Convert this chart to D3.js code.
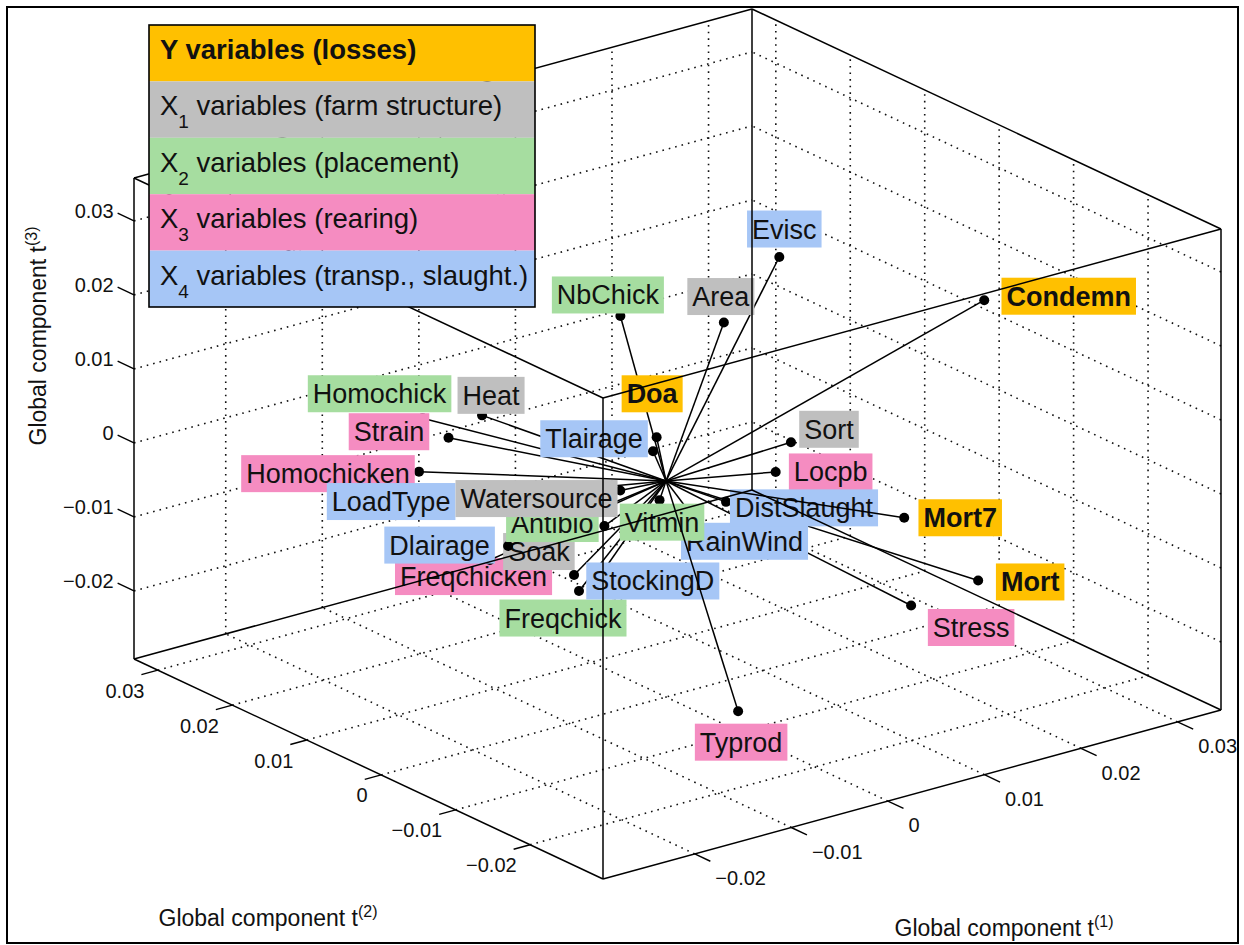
<!DOCTYPE html>
<html><head><meta charset="utf-8">
<script src="https://cdn.jsdelivr.net/npm/d3@7"></script>
<style>
body{margin:0;background:#fff}
svg{display:block}
text{font-family:"Liberation Sans",Arial,Helvetica,sans-serif}
</style>
</head><body>
<svg id="chart" width="1244" height="945"></svg>
<script>
// ---------------- data ----------------
const variables = ["Condemn","Evisc","Area","NbChick","Sort","Locpb","Stress","Mort","Heat","Homochick","Strain","Homochicken","Freqchicken","Freqchick","StockingD","Soak","Dlairage","LoadType","Antibio","Watersource","RainWind","Vitmin","DistSlaught","Mort7","Typrod","Tlairage","Doa"];
const groups    = ["Y","X4","X1","X2","X1","X3","X3","Y","X1","X2","X3","X3","X3","X2","X4","X1","X4","X4","X2","X1","X4","X2","X4","Y","X3","X4","Y"];
const comp1 = [0.0291,0.0179,0.0137,-0.0001,0.0114,0.0075,0.0223,0.0277,-0.0098,-0.0175,-0.0179,-0.0225,-0.0049,-0.0067,-0.0084,-0.0113,-0.0125,-0.0150,-0.0033,-0.0032,-0.0006,0.0001,0.0039,0.0185,0.0013,0.0002,-0.0002];
const comp2 = [-0.005,0.008,0.010,0.006,-0.002,-0.005,-0.004,-0.006,0.012,0.010,0.006,0.004,0.006,0.003,-0.002,0.009,0.005,0.008,0.004,0.002,-0.004,0.001,-0.003,-0.008,-0.008,0.002,0.001];
const comp3 = [0.0164,0.0201,0.0118,0.0195,0.0021,0.0009,-0.0229,-0.0205,0.0067,0.0100,0.0094,0.0074,-0.0138,-0.0139,-0.0089,-0.0109,-0.0067,-0.0010,-0.0068,-0.0011,-0.0022,-0.0031,-0.0028,-0.0078,-0.0278,0.0030,0.0055];

const groupKeys   = ["Y","X1","X2","X3","X4"];
const groupSubs   = ["","1","2","3","4"];
const groupDescr  = ["Y variables (losses)"," variables (farm structure)"," variables (placement)"," variables (rearing)"," variables (transp., slaught.)"];
const tickValues  = [-0.02,-0.01,0,0.01,0.02,0.03];
const tickLabels  = ["\u22120.02","\u22120.01","0","0.01","0.02","0.03"];
const axisTitles  = ["(1)","(2)","(3)"];

// ---------------- layout / style ----------------
const groupColors = {Y:"#FFC000",X1:"#BFBFBF",X2:"#A6DDA0",X3:"#F58CC1",X4:"#A6C6F6"};
const labelOffset = {Condemn:[84.5,-4],Evisc:[5,-28],Area:[-3,-26],NbChick:[-12.5,-21],Sort:[38,-13],Locpb:[55,0],Stress:[60,22],Mort:[52,1.5],Heat:[9,-20],Homochick:[-43,-24.5],Strain:[-59.5,-6],Homochicken:[-91,2],Freqchicken:[-100.5,1.5],Freqchick:[-16,27],StockingD:[53,5],Soak:[49,-8.5],Dlairage:[-68.5,-1],LoadType:[-70.5,1.5],Antibio:[-52,-2.5],Watersource:[-83.7,8],RainWind:[54.5,28.5],Vitmin:[2.5,22],DistSlaught:[78,6],Mort7:[56,0],Typrod:[3,31],Tlairage:[-59,-12.5],Doa:[-4.5,-43.5]};

const svg = d3.select("#chart");
const F0=[603,879], R0=[1221,710], L0=[134,659], H=481;
const s1=d3.scaleLinear().domain([-0.0295,0.0345]).range([0,1]);
const s2=d3.scaleLinear().domain([-0.0298,0.0332]).range([0,1]);
const s3=d3.scaleLinear().domain([-0.0292,0.0358]).range([0,1]);
const [a0,a1]=s1.domain(),[b0,b1]=s2.domain(),[c0,c1]=s3.domain();
function P(a,b,c){
  const f1=s1(a),f2=s2(b),f3=s3(c);
  return [F0[0]+f1*(R0[0]-F0[0])+f2*(L0[0]-F0[0]),
          F0[1]+f1*(R0[1]-F0[1])+f2*(L0[1]-F0[1])-f3*H];
}
const line = d3.line();

// outer frame
svg.append("rect").attr("x",7).attr("y",7).attr("width",1231).attr("height",936)
  .attr("fill","#fff").attr("stroke","#000").attr("stroke-width",2);

// grid (dotted)
const grid = svg.append("g").attr("fill","none").attr("stroke","#111")
  .attr("stroke-width",1.6).attr("stroke-dasharray","1.6,5");
const gl = [];
tickValues.forEach(v=>{
  gl.push([P(v,b0,c0),P(v,b1,c0)]);      // floor, along t2
  gl.push([P(a0,v,c0),P(a1,v,c0)]);      // floor, along t1
  gl.push([P(v,b1,c0),P(v,b1,c1)]);      // back-left wall verticals
  gl.push([P(a0,b1,v),P(a1,b1,v)]);      // back-left wall horizontals
  gl.push([P(a1,v,c0),P(a1,v,c1)]);      // back-right wall verticals
  gl.push([P(a1,b0,v),P(a1,b1,v)]);      // back-right wall horizontals
});
grid.selectAll("path").data(gl).join("path").attr("d",d=>line(d));

// ticks & tick labels
const ax = svg.append("g").attr("stroke","#000").attr("stroke-width",1.4);
const tl = svg.append("g").attr("font-size",20).attr("fill","#111");
tickValues.forEach((v,i)=>{
  // t1 axis
  let p=P(v,b0,c0), q=P(v,b0-0.0021,c0);
  ax.append("path").attr("d",line([p,q]));
  tl.append("text").attr("x",q[0]+5).attr("y",q[1]+24).text(tickLabels[i]);
  // t2 axis
  p=P(a0,v,c0); q=P(a0-0.0017,v,c0);
  ax.append("path").attr("d",line([p,q]));
  tl.append("text").attr("x",q[0]+3).attr("y",q[1]+23).attr("text-anchor","end").text(tickLabels[i]);
  // t3 axis
  p=P(a0,b1,v); q=P(a0,b1+0.0022,v);
  ax.append("path").attr("d",line([p,q]));
  tl.append("text").attr("x",q[0]-4).attr("y",q[1]+5).attr("text-anchor","end").text(tickLabels[i]);
});

// axis titles
function title(x,y,rot,sup){
  const t=svg.append("text").attr("font-size",23).attr("fill","#111").attr("text-anchor","middle")
    .attr("transform",`translate(${x},${y}) rotate(${rot})`);
  t.append("tspan").text("Global component t");
  t.append("tspan").attr("font-size",16).attr("dy",-9).text(sup);
}
title(1004,936,0,axisTitles[0]);
title(268,926,0,axisTitles[1]);
title(46,336,-90,axisTitles[2]);

// variables: segment, point, label (in order)
const origin = P(0,0,0);
variables.forEach((name,i)=>{
  const p = P(comp1[i],comp2[i],comp3[i]);
  svg.append("path").attr("d",line([origin,p])).attr("stroke","#000").attr("stroke-width",1.5).attr("fill","none");
  svg.append("circle").attr("cx",p[0]).attr("cy",p[1]).attr("r",5).attr("fill","#000");
  const off = labelOffset[name];
  const cx=p[0]+off[0], cy=p[1]+off[1];
  const g = svg.append("g");
  const rect = g.append("rect").attr("fill",groupColors[groups[i]]);
  const t = g.append("text").attr("x",cx).attr("y",cy+9.5).attr("text-anchor","middle")
    .attr("font-size",27).attr("fill","#111")
    .attr("font-weight",groups[i]==="Y"?"bold":"normal").text(name);
  const w = t.node().getComputedTextLength()+10;
  rect.attr("x",cx-w/2).attr("y",cy-18.5).attr("width",w).attr("height",37);
});

// box edges
const V = (i,j,k)=>P(i?a1:a0, j?b1:b0, k?c1:c0);
const edges=[];
[0,1].forEach(k=>{
  edges.push([V(0,0,k),V(1,0,k)],[V(1,0,k),V(1,1,k)],[V(1,1,k),V(0,1,k)],[V(0,1,k),V(0,0,k)]);
});
[[0,0],[1,0],[0,1],[1,1]].forEach(([i,j])=>edges.push([V(i,j,0),V(i,j,1)]));
svg.append("g").attr("stroke","#000").attr("stroke-width",1.5).attr("fill","none")
  .selectAll("path").data(edges).join("path").attr("d",d=>line(d));

// legend
const lg = svg.append("g");
const lx=149, ly=25, lw=386, rh=56.4;
groupKeys.forEach((k,i)=>{
  lg.append("rect").attr("x",lx).attr("y",ly+i*rh).attr("width",lw).attr("height",rh).attr("fill",groupColors[k]);
  const t = lg.append("text").attr("x",lx+11).attr("y",ly+i*rh+34).attr("font-size",27.5).attr("fill","#111");
  if(i===0){ t.attr("font-weight","bold").text(groupDescr[0]); }
  else{
    t.append("tspan").text("X");
    t.append("tspan").attr("font-size",19).attr("dy",13).text(groupSubs[i]);
    t.append("tspan").attr("dy",-13).text(groupDescr[i]);
  }
});
lg.append("rect").attr("x",lx).attr("y",ly).attr("width",lw).attr("height",rh*5)
  .attr("fill","none").attr("stroke","#000").attr("stroke-width",1.6);
</script>
</body></html>
